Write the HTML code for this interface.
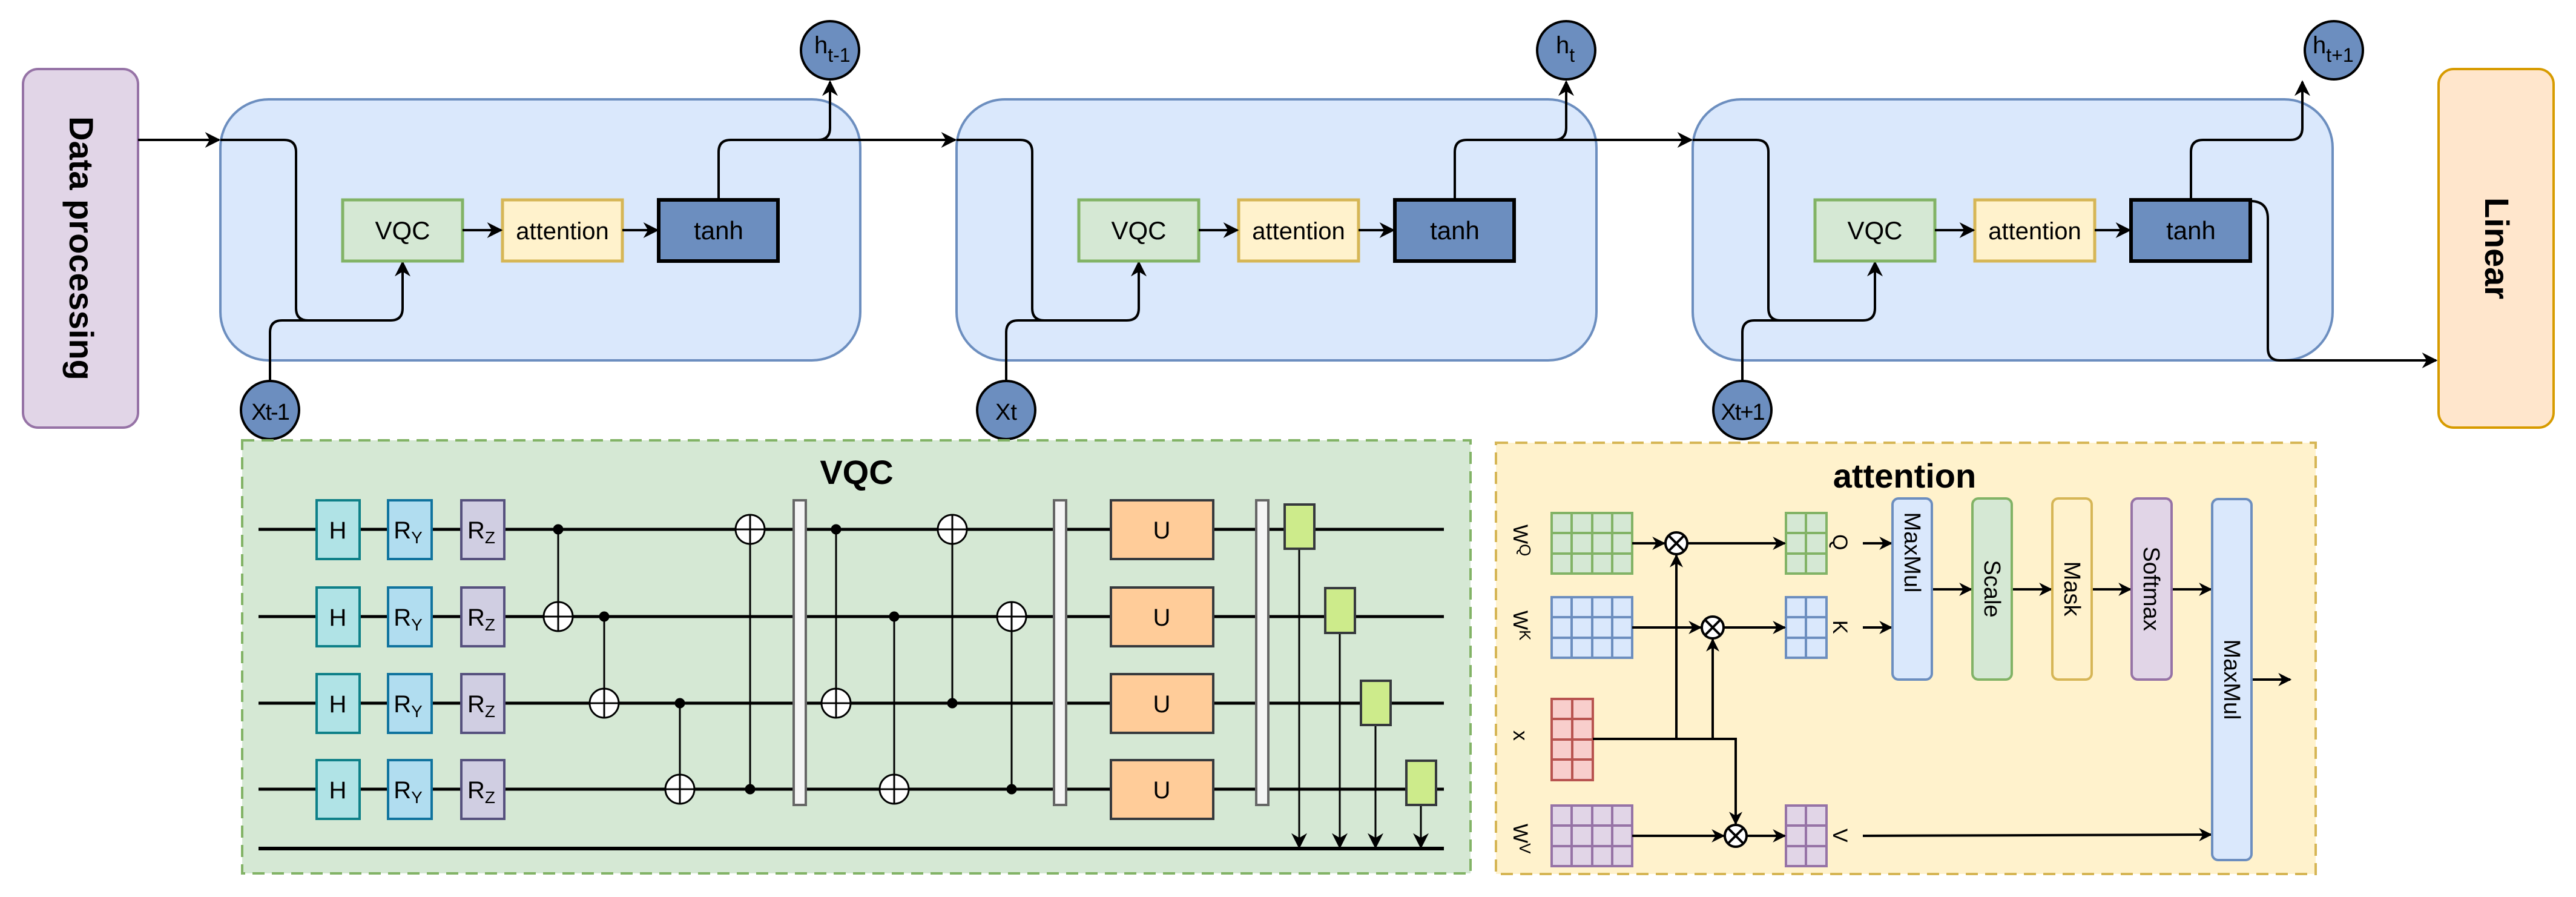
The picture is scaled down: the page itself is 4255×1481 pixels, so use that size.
<!DOCTYPE html>
<html><head><meta charset="utf-8"><style>html,body{margin:0;padding:0;background:#fff}svg{display:block}</style></head>
<body>
<svg xmlns="http://www.w3.org/2000/svg" width="4255" height="1481" viewBox="0 0 4255 1481" font-family="Liberation Sans, sans-serif">
<defs>
<marker id="ar" viewBox="0 0 10 10" refX="9" refY="5" markerWidth="26" markerHeight="26" orient="auto" markerUnits="userSpaceOnUse"><path d="M0,0 L10,5 L0,10 L3,5 z" fill="#000"/></marker>
<marker id="as" viewBox="0 0 10 10" refX="9" refY="5" markerWidth="22" markerHeight="22" orient="auto" markerUnits="userSpaceOnUse"><path d="M0,0 L10,5 L0,10 L3,5 z" fill="#000"/></marker>
<g id="cell">
<rect x="364" y="164" width="1057" height="431" rx="80" fill="#dae8fc" stroke="#6c8ebf" stroke-width="4"/>
<path d="M364,231 H469 Q489,231 489,251 V509 Q489,529 509,529 H645 Q665,529 665,509 V433" fill="none" stroke="#000" stroke-width="4" marker-end="url(#ar)"/>
<path d="M446,630 V549 Q446,529 466,529 H510" fill="none" stroke="#000" stroke-width="4"/>
<rect x="566" y="330" width="198" height="101" fill="#d5e8d4" stroke="#82b366" stroke-width="5"/>
<text x="665" y="395" font-size="42" text-anchor="middle">VQC</text>
<rect x="830" y="330" width="198" height="101" fill="#fff2cc" stroke="#d6b656" stroke-width="5"/>
<text x="929" y="395" font-size="40" text-anchor="middle">attention</text>
<rect x="1088" y="330" width="197" height="101" fill="#6c8ebf" stroke="#000" stroke-width="6"/>
<text x="1187" y="395" font-size="42" text-anchor="middle">tanh</text>
<path d="M764,380 H828" stroke="#000" stroke-width="4" marker-end="url(#ar)"/>
<path d="M1028,380 H1086" stroke="#000" stroke-width="4" marker-end="url(#ar)"/>
<path d="M1187,330 V251 Q1187,231 1207,231 H1351 Q1371,231 1371,211 V135" fill="none" stroke="#000" stroke-width="4" marker-end="url(#ar)"/>
<circle cx="446" cy="677" r="48" fill="#6c8ebf" stroke="#000" stroke-width="4"/>
</g>
</defs>

<rect x="38" y="114" width="190" height="592" rx="25" fill="#e1d5e7" stroke="#9673a6" stroke-width="4"/>
<text transform="translate(115,410) rotate(90)" font-size="56" font-weight="bold" text-anchor="middle">Data processing</text>
<path d="M228,231 H362" stroke="#000" stroke-width="4" marker-end="url(#ar)"/>

<use href="#cell"/>
<use href="#cell" x="1216"/>
<use href="#cell" x="2432"/>
<path d="M1351,231 H1578" stroke="#000" stroke-width="4" marker-end="url(#ar)"/>
<path d="M2567,231 H2794" stroke="#000" stroke-width="4" marker-end="url(#ar)"/>
<path d="M3717,332 Q3746,332 3746,361 V575 Q3746,595 3766,595 H4024" fill="none" stroke="#000" stroke-width="4" marker-end="url(#ar)"/>

<circle cx="1371" cy="83" r="48" fill="#6c8ebf" stroke="#000" stroke-width="4"/>
<circle cx="2587" cy="83" r="48" fill="#6c8ebf" stroke="#000" stroke-width="4"/>
<circle cx="3855" cy="83" r="48" fill="#6c8ebf" stroke="#000" stroke-width="4"/>
<text x="1345" y="88" font-size="40">h<tspan font-size="32" dy="14">t-1</tspan></text>
<text x="2570" y="88" font-size="40">h<tspan font-size="32" dy="14">t</tspan></text>
<text x="3820" y="88" font-size="40">h<tspan font-size="32" dy="14">t+1</tspan></text>
<text x="446" y="693" font-size="38" text-anchor="middle" letter-spacing="-2">Xt-1</text>
<text x="1662" y="693" font-size="38" text-anchor="middle">Xt</text>
<text x="2878" y="693" font-size="38" text-anchor="middle" letter-spacing="-2">Xt+1</text>

<rect x="4028" y="114" width="190" height="592" rx="25" fill="#ffe6cc" stroke="#d79b00" stroke-width="4"/>
<text transform="translate(4105,410) rotate(90)" font-size="56" font-weight="bold" text-anchor="middle">Linear</text>

<!-- VQC panel -->
<rect x="400" y="727" width="2029" height="715" fill="#d5e8d4" stroke="#82b366" stroke-width="4" stroke-dasharray="20 12"/>
<text x="1415" y="799" font-size="56" font-weight="bold" text-anchor="middle">VQC</text>
<g stroke="#000" stroke-width="5">
<path d="M427,874 H2385 M427,1018 H2385 M427,1161 H2385 M427,1303 H2385"/>
<path d="M427,1401 H2385" stroke-width="6"/>
</g>
<g font-size="40" text-anchor="middle">
<g id="gates">
<rect x="523" y="826" width="71" height="97" fill="#b0e3e6" stroke="#0e8088" stroke-width="4"/>
<text x="558" y="889">H</text>
<rect x="641" y="826" width="72" height="97" fill="#b1ddf0" stroke="#10739e" stroke-width="4"/>
<text x="674" y="889">R<tspan font-size="28" dy="8">Y</tspan></text>
<rect x="762" y="826" width="71" height="97" fill="#d0cee2" stroke="#56517e" stroke-width="4"/>
<text x="795" y="889">R<tspan font-size="28" dy="8">Z</tspan></text>
<rect x="1835" y="826" width="169" height="97" fill="#ffcc99" stroke="#36393d" stroke-width="4"/>
<text x="1919" y="889">U</text>
</g>
<use href="#gates" y="144"/>
<use href="#gates" y="287"/>
<use href="#gates" y="429"/>
</g>
<!-- CNOTs -->
<g stroke="#000" stroke-width="3" fill="#000">
<path d="M922,874 V1018 M998,1018 V1161 M1123,1161 V1303 M1239,874 V1303 M1381,874 V1161 M1477,1018 V1303 M1573,874 V1161 M1671,1018 V1303"/>
<circle cx="922" cy="874" r="7"/><circle cx="998" cy="1018" r="7"/><circle cx="1123" cy="1161" r="7"/><circle cx="1239" cy="1303" r="7"/>
<circle cx="1381" cy="874" r="7"/><circle cx="1477" cy="1018" r="7"/><circle cx="1573" cy="1161" r="7"/><circle cx="1671" cy="1303" r="7"/>
<g fill="#fff">
<circle cx="922" cy="1018" r="24"/><circle cx="998" cy="1161" r="24"/><circle cx="1123" cy="1303" r="24"/><circle cx="1239" cy="874" r="24"/>
<circle cx="1381" cy="1161" r="24"/><circle cx="1477" cy="1303" r="24"/><circle cx="1573" cy="874" r="24"/><circle cx="1671" cy="1018" r="24"/>
</g>
<path d="M898,1018 H946 M922,994 V1042 M974,1161 H1022 M998,1137 V1185 M1099,1303 H1147 M1123,1279 V1327 M1215,874 H1263 M1239,850 V898 M1357,1161 H1405 M1381,1137 V1185 M1453,1303 H1501 M1477,1279 V1327 M1549,874 H1597 M1573,850 V898 M1647,1018 H1695 M1671,994 V1042"/>
</g>
<g fill="#f5f5f5" stroke="#666" stroke-width="4">
<rect x="1311" y="826" width="20" height="503"/>
<rect x="1741" y="826" width="20" height="503"/>
<rect x="2075" y="826" width="20" height="503"/>
</g>
<g stroke="#000" stroke-width="3">
<path d="M2146,906 V1399" marker-end="url(#ar)"/>
<path d="M2213,1045 V1399" marker-end="url(#ar)"/>
<path d="M2272,1197 V1399" marker-end="url(#ar)"/>
<path d="M2347,1329 V1399" marker-end="url(#ar)"/>
</g>
<g fill="#cdeb8b" stroke="#36393d" stroke-width="4">
<rect x="2122" y="833" width="49" height="73"/>
<rect x="2189" y="971" width="49" height="74"/>
<rect x="2248" y="1124" width="49" height="73"/>
<rect x="2323" y="1256" width="49" height="73"/>
</g>

<!-- attention panel -->
<rect x="2471" y="731" width="1354" height="712" fill="#fff2cc" stroke="#d6b656" stroke-width="4" stroke-dasharray="20 12"/>
<text x="3146" y="805" font-size="56" font-weight="bold" text-anchor="middle">attention</text>
<g stroke-width="4">
<g fill="#d5e8d4" stroke="#82b366"><rect x="2563" y="847" width="133" height="100"/><path d="M2596,847V947M2630,847V947M2663,847V947M2563,880H2696M2563,914H2696" fill="none"/>
<rect x="2950" y="847" width="67" height="100"/><path d="M2983,847V947M2950,880H3017M2950,914H3017" fill="none"/></g>
<g fill="#dae8fc" stroke="#6c8ebf"><rect x="2563" y="986" width="133" height="100"/><path d="M2596,986V1086M2630,986V1086M2663,986V1086M2563,1019H2696M2563,1053H2696" fill="none"/>
<rect x="2950" y="986" width="67" height="100"/><path d="M2983,986V1086M2950,1019H3017M2950,1053H3017" fill="none"/></g>
<g fill="#f8cecc" stroke="#b85450"><rect x="2563" y="1154" width="68" height="134"/><path d="M2597,1154V1288M2563,1187H2631M2563,1221H2631M2563,1254H2631" fill="none"/></g>
<g fill="#e1d5e7" stroke="#9673a6"><rect x="2563" y="1330" width="133" height="100"/><path d="M2596,1330V1430M2630,1330V1430M2663,1330V1430M2563,1363H2696M2563,1397H2696" fill="none"/>
<rect x="2950" y="1330" width="67" height="100"/><path d="M2983,1330V1430M2950,1363H3017M2950,1397H3017" fill="none"/></g>
</g>
<g font-size="34">
<text transform="translate(2500,866) rotate(90)">W<tspan font-size="26" dy="-10">Q</tspan></text>
<text transform="translate(2500,1008) rotate(90)">W<tspan font-size="26" dy="-10">K</tspan></text>
<text transform="translate(2500,1206) rotate(90)">x</text>
<text transform="translate(2500,1360) rotate(90)">W<tspan font-size="26" dy="-10">V</tspan></text>
<text transform="translate(3028,882) rotate(90)">Q</text>
<text transform="translate(3028,1024) rotate(90)">K</text>
<text transform="translate(3028,1368) rotate(90)">V</text>
</g>
<g stroke="#000" stroke-width="4" fill="none">
<path d="M2696,897 H2749" marker-end="url(#as)"/>
<path d="M2787,897 H2948" marker-end="url(#as)"/>
<path d="M2696,1036 H2809" marker-end="url(#as)"/>
<path d="M2847,1036 H2948" marker-end="url(#as)"/>
<path d="M2696,1380 H2847" marker-end="url(#as)"/>
<path d="M2885,1380 H2948" marker-end="url(#as)"/>
<path d="M2631,1220 H2867 V1360" marker-end="url(#as)"/>
<path d="M2769,1220 V917" marker-end="url(#as)"/>
<path d="M2829,1220 V1056" marker-end="url(#as)"/>
<path d="M3077,897 H3124" marker-end="url(#as)"/>
<path d="M3077,1036 H3124" marker-end="url(#as)"/>
<path d="M3077,1380 L3652,1378" marker-end="url(#as)"/>
<path d="M3191,973 H3256" marker-end="url(#as)"/>
<path d="M3323,973 H3388" marker-end="url(#as)"/>
<path d="M3455,973 H3519" marker-end="url(#as)"/>
<path d="M3587,973 H3652" marker-end="url(#as)"/>
<path d="M3719,1122 H3783" marker-end="url(#as)"/>
</g>
<g stroke="#000" stroke-width="4" fill="#fff">
<circle cx="2769" cy="897" r="18"/><circle cx="2829" cy="1036" r="18"/><circle cx="2867" cy="1380" r="18"/>
<path d="M2756,884 L2782,910 M2782,884 L2756,910 M2816,1023 L2842,1049 M2842,1023 L2816,1049 M2854,1367 L2880,1393 M2880,1367 L2854,1393"/>
</g>
<g stroke-width="4">
<rect x="3126" y="823" width="65" height="299" rx="10" fill="#dae8fc" stroke="#6c8ebf"/>
<rect x="3258" y="823" width="65" height="299" rx="10" fill="#d5e8d4" stroke="#82b366"/>
<rect x="3390" y="823" width="65" height="299" rx="10" fill="#fff2cc" stroke="#d6b656"/>
<rect x="3521" y="823" width="66" height="299" rx="10" fill="#e1d5e7" stroke="#9673a6"/>
<rect x="3654" y="824" width="65" height="596" rx="10" fill="#dae8fc" stroke="#6c8ebf"/>
</g>
<g font-size="38" text-anchor="middle">
<text transform="translate(3146,912) rotate(90)">MaxMul</text>
<text transform="translate(3278,972) rotate(90)">Scale</text>
<text transform="translate(3410,972) rotate(90)">Mask</text>
<text transform="translate(3541,972) rotate(90)">Softmax</text>
<text transform="translate(3674,1122) rotate(90)">MaxMul</text>
</g>
</svg>
</body></html>
